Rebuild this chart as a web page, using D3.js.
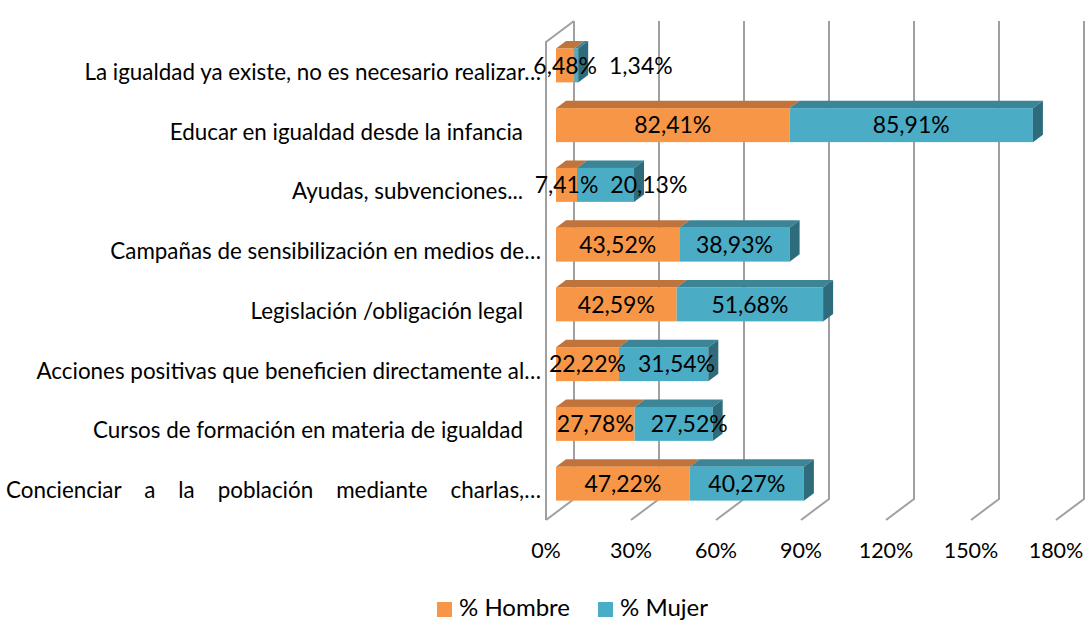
<!DOCTYPE html>
<html>
<head>
<meta charset="utf-8">
<script src="https://cdn.jsdelivr.net/npm/d3@7"></script>
<style>
  body { margin: 0; background: #fff; }
  svg { display: block; }
  text { font-family: Lato, "Open Sans", sans-serif; fill: #000; }
</style>
</head>
<body>
<svg id="chart" width="1091" height="622"></svg>
<script>
const categories = [
    "La igualdad ya existe, no es necesario realizar…",
    "Educar en igualdad desde la infancia",
    "Ayudas, subvenciones...",
    "Campañas de sensibilización en medios de…",
    "Legislación /obligación legal",
    "Acciones positivas que beneficien directamente al…",
    "Cursos de formación en materia de igualdad",
    "Concienciar a la población mediante charlas,…"
];
const hombre = [6.48, 82.41, 7.41, 43.52, 42.59, 22.22, 27.78, 47.22];
const mujer = [1.34, 85.91, 20.13, 38.93, 51.68, 31.54, 27.52, 40.27];
const tickValues = [0, 30, 60, 90, 120, 150, 180];
const seriesNames = ["% Hombre", "% Mujer"];
const justifiedCats = ["Concienciar a la población mediante charlas,…"];

const svg = d3.select('#chart');

// plot box (front plane) and 3d depth
const plot = { left: 546, right: 1056, top: 42, bottom: 520 };
const wall = { dx: 28, dy: -21 };
const barOff = { dx: 10, dy: -7.5 };   // bar front face from front plane
const barDepth = { dx: 10, dy: -7.5 };
const barH = 34;

const colors = {
    hombre: { front: '#f79646', top: '#c0733a', side: '#a9622c' },
    mujer: { front: '#4bacc6', top: '#3b8597', side: '#2f6c7b' }
};
const gridColor = '#a0a0a0';

const x = d3.scaleLinear().domain([0, 180]).range([plot.left, plot.right]);
const y = d3.scaleBand().domain(categories).range([plot.top, plot.bottom]).paddingInner(0).paddingOuter(0);

const fmt = v => d3.format('.2f')(v).replace('.', ',') + '%';

// 1. grid: back wall verticals + floor diagonals
const grid = svg.append('g').attr('class', 'grid');
grid.selectAll('path.gl')
    .data(tickValues)
    .enter()
    .append('path')
    .attr('class', 'gl')
    .attr('d', v => {
        const x0 = x(v);
        return `M ${x0} ${plot.bottom} L ${x0 + wall.dx} ${plot.bottom + wall.dy} L ${x0 + wall.dx} ${plot.top + wall.dy}`;
    })
    .style('fill', 'none')
    .style('stroke', gridColor)
    .style('stroke-width', 2);

// left wall edge
grid.append('path')
    .attr('d', `M ${x(0)} ${plot.bottom} L ${x(0)} ${plot.top} L ${x(0) + wall.dx} ${plot.top + wall.dy}`)
    .style('fill', 'none')
    .style('stroke', gridColor)
    .style('stroke-width', 2);

// 2. bars (stacked, 3d)
const rows = categories.map((c, i) => ({ cat: c, h: hombre[i], m: mujer[i] }));
const bars = svg.append('g').attr('class', 'bars');

function faces(g, x0, x1, yTop, col, withSide) {
    const a = x(x0) + barOff.dx, b = x(x1) + barOff.dx;
    const t = yTop, btm = yTop + barH;
    g.append('polygon')
        .attr('points', [[a, t], [b, t], [b + barDepth.dx, t + barDepth.dy], [a + barDepth.dx, t + barDepth.dy]].join(' '))
        .style('fill', col.top);
    g.append('rect')
        .attr('x', a).attr('y', t)
        .attr('width', b - a).attr('height', barH)
        .style('fill', col.front);
    if (withSide) {
        g.append('polygon')
            .attr('points', [[b, t], [b + barDepth.dx, t + barDepth.dy], [b + barDepth.dx, btm + barDepth.dy], [b, btm]].join(' '))
            .style('fill', col.side);
    }
}

rows.forEach(d => {
    const g = bars.append('g');
    const yTop = y(d.cat) + (y.bandwidth() - barH) / 2 + barOff.dy + 1;
    d.yTop = yTop;
    faces(g, 0, d.h, yTop, colors.hombre, false);
    faces(g, d.h, d.h + d.m, yTop, colors.mujer, true);
});

// 3. data labels
const labels = svg.append('g').attr('class', 'data-labels')
    .style('font-size', '23px');

rows.forEach(d => {
    const cy = d.yTop + barH / 2;
    const hx = x(d.h / 2) + barOff.dx;
    const th = labels.append('text')
        .attr('x', hx).attr('y', cy)
        .attr('dy', '0.36em')
        .attr('text-anchor', 'middle')
        .text(fmt(d.h));
    const hw = th.node().getComputedTextLength();
    const hRight = hx + hw / 2;

    const tm = labels.append('text')
        .attr('y', cy)
        .attr('dy', '0.36em')
        .attr('text-anchor', 'middle')
        .text(fmt(d.m));
    const mw = tm.node().getComputedTextLength();
    // keep label inside its segment start and clear of the previous label
    const segStart = x(d.h) + barOff.dx;
    const centred = x(d.h + d.m / 2) + barOff.dx - mw / 2;
    const left = Math.max(centred, segStart + 16, hRight + 12);
    tm.attr('x', left + mw / 2);
});

// 4. category labels
const catG = svg.append('g').attr('class', 'cat-labels')
    .style('font-size', '22.4px');

categories.forEach(c => {
    const truncated = c.endsWith('…');
    const t = catG.append('text')
        .attr('y', y(c) + y.bandwidth() / 2)
        .attr('dy', '0.36em')
        .attr('text-anchor', 'end')
        .attr('x', plot.left - (truncated ? 5 : 23))
        .text(c);
    if (justifiedCats.includes(c)) {
        const w = t.node().getComputedTextLength();
        const target = plot.left - 5 - 6;
        const spaces = (c.match(/ /g) || []).length;
        t.attr('word-spacing', (target - w) / spaces);
    }
});

// 5. x axis tick labels
svg.append('g').attr('class', 'x-ticks')
    .style('font-size', '21.5px')
    .selectAll('text')
    .data(tickValues)
    .enter()
    .append('text')
    .attr('x', d => x(d))
    .attr('y', 558)
    .attr('text-anchor', 'middle')
    .text(d => d + '%');

// 6. legend
const legend = svg.append('g').attr('class', 'legend')
    .style('font-size', '24px');
const legendX = [437, 598];
[colors.hombre.front, colors.mujer.front].forEach((col, i) => {
    legend.append('rect')
        .attr('x', legendX[i]).attr('y', 602)
        .attr('width', 15).attr('height', 15)
        .style('fill', col);
    legend.append('text')
        .attr('x', legendX[i] + 22).attr('y', 616)
        .text(seriesNames[i]);
});
</script>
</body>
</html>
